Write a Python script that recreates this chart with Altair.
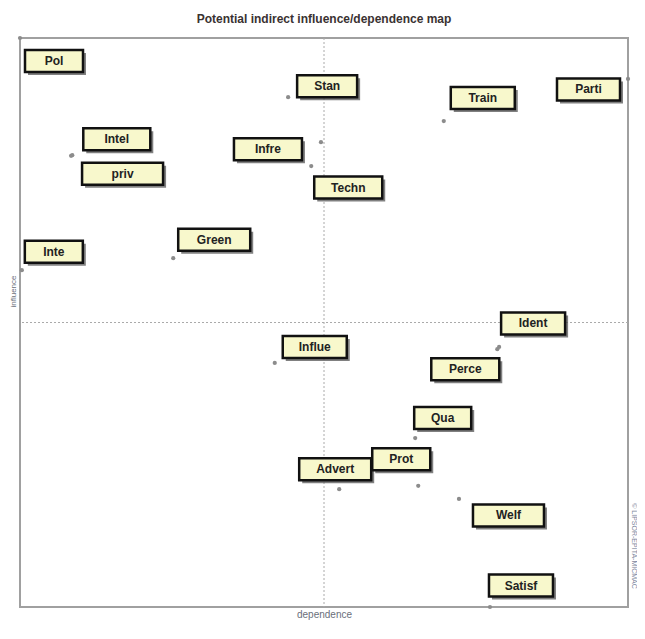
import altair as alt
import pandas as pd

# ---- data ----
labels = ["Pol", "Stan", "Train", "Parti", "Intel", "priv", "Infre", "Techn", "Green",
          "Inte", "Influe", "Ident", "Perce", "Qua", "Prot", "Advert", "Welf", "Satisf"]
dependence = [0.0, 44.1, 69.7, 100.0, 8.6, 8.4, 49.5, 47.9, 25.2,
              0.3, 41.9, 78.8, 78.5, 65.0, 65.5, 52.5, 72.2, 77.3]
influence = [100.0, 89.6, 85.4, 92.8, 79.4, 79.3, 81.7, 77.5, 61.3,
             59.2, 42.9, 45.7, 45.3, 29.7, 21.3, 20.7, 19.0, 0.0]

# ---- label layout (pixel offsets of the label box centre from the point, box width) ----
label_dx = [34, 39, 39, -39.5, 44.5, 51.5, -53, 37, 41, 32, 40, 34, -32, 27.5, -17, -4, 49.5, 31]
label_dy = [23, -11, -23, 10.5, -16, 18, 7, 21.5, -18.5, -18.5, -16, -23.5, 20, -20, -26.5, -20, 16.5, -21.5]
box_w = [58, 60, 64, 63, 67, 81, 68, 68, 72, 58, 64, 64, 68, 57, 58, 72, 71, 64]
BOX_H = 22

W, H = 608, 569
PX_X = W / 100.0
PX_Y = H / 100.0

df = pd.DataFrame({"label": labels, "dep": dependence, "inf": influence,
                   "dx": label_dx, "dy": label_dy, "bw": box_w})
df["lx"] = df["dep"] + df["dx"] / PX_X
df["ly"] = df["inf"] - df["dy"] / PX_Y
df["x1"] = df["lx"] - df["bw"] / 2 / PX_X
df["x2"] = df["lx"] + df["bw"] / 2 / PX_X
df["y1"] = df["ly"] - BOX_H / 2 / PX_Y
df["y2"] = df["ly"] + BOX_H / 2 / PX_Y

xs = alt.Scale(domain=[0, 100], nice=False, zero=False)
ys = alt.Scale(domain=[0, 100], nice=False, zero=False)

base = alt.Chart(df)

xaxis = alt.Axis(labels=False, ticks=False, domain=False, grid=False,
                 title="dependence", titleFontSize=10, titleFont="Liberation Sans",
                 titleFontWeight="normal", titleColor="#6a6f7a", titlePadding=2)
yaxis = alt.Axis(labels=False, ticks=False, domain=False, grid=False,
                 title="influence", titleFontSize=8, titleFont="Liberation Sans",
                 titleFontWeight="normal", titleColor="#6a6f7a", titlePadding=3,
                 titleY=253)

mid = pd.DataFrame({"v": [50]})
vline = alt.Chart(mid).mark_rule(color="#aaaaaa", strokeDash=[2, 2], strokeWidth=1).encode(
    x=alt.X("v:Q", scale=xs, axis=xaxis))
hline = alt.Chart(mid).mark_rule(color="#aaaaaa", strokeDash=[2, 2], strokeWidth=1).encode(
    y=alt.Y("v:Q", scale=ys, axis=yaxis))

points = base.mark_point(filled=True, color="#8c8c8c", size=18, opacity=1).encode(
    x=alt.X("dep:Q", scale=xs), y=alt.Y("inf:Q", scale=ys))

shadow = base.mark_rect(fill="#555555", opacity=0.75, xOffset=3, x2Offset=3,
                        yOffset=3, y2Offset=3).encode(
    x=alt.X("x1:Q", scale=xs), x2="x2:Q", y=alt.Y("y1:Q", scale=ys), y2="y2:Q")

boxes = base.mark_rect(fill="#F8F8CC", stroke="#111111", strokeWidth=2.5).encode(
    x=alt.X("x1:Q", scale=xs), x2="x2:Q", y=alt.Y("y1:Q", scale=ys), y2="y2:Q")

texts = base.mark_text(font="Liberation Sans", fontSize=12, fontWeight="bold",
                       color="#222222", baseline="middle", align="center").encode(
    x=alt.X("lx:Q", scale=xs), y=alt.Y("ly:Q", scale=ys), text="label:N")

wm = alt.Chart(pd.DataFrame({"t": ["© LIPSOR-EPITA-MICMAC"]})).mark_text(
    angle=90, fontSize=7, font="Liberation Sans", color="#8088a0", align="center",
    baseline="middle").encode(x=alt.value(614), y=alt.value(508), text="t:N")

chart = alt.layer(vline, hline, points, shadow, boxes, texts, wm).properties(
    width=W, height=H,
    title=alt.TitleParams("Potential indirect influence/dependence map", fontSize=12,
                          font="Liberation Sans", fontWeight="bold", color="#3a3232",
                          anchor="middle", offset=10),
    autosize=alt.AutoSizeParams(type="none"),
    padding={"left": 12, "top": 30, "right": 9, "bottom": 24},
).configure_view(stroke="#a0a0a0", strokeWidth=2)

chart.save("out.html", embed_options={"renderer": "svg", "actions": False})
